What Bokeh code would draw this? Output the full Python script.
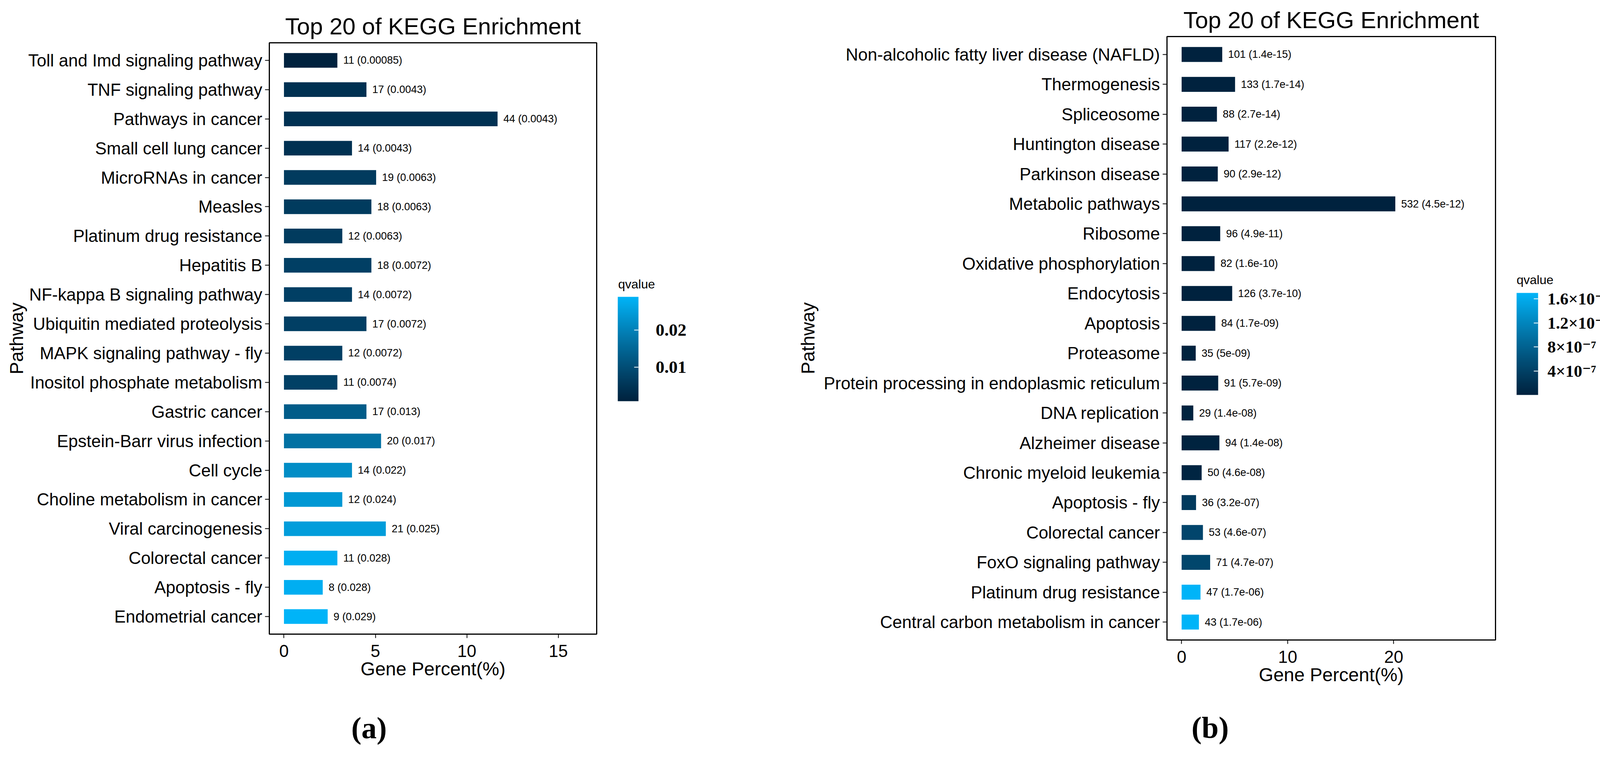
import numpy as np
from bokeh.plotting import figure
from bokeh.models import (ColumnDataSource, FactorRange, Range1d, LinearColorMapper,
                          ColorBar, FixedTicker, LinearAxis,
                          CustomJSTickFormatter, BasicTickFormatter)
from bokeh.transform import transform
from bokeh.layouts import row, column
from bokeh.core.properties import value
from bokeh.embed import file_html
from bokeh.resources import INLINE

# ---------------- data: panel (a) ----------------
pathways_a = [
    "Toll and Imd signaling pathway", "TNF signaling pathway", "Pathways in cancer",
    "Small cell lung cancer", "MicroRNAs in cancer", "Measles",
    "Platinum drug resistance", "Hepatitis B", "NF-kappa B signaling pathway",
    "Ubiquitin mediated proteolysis", "MAPK signaling pathway - fly",
    "Inositol phosphate metabolism", "Gastric cancer", "Epstein-Barr virus infection",
    "Cell cycle", "Choline metabolism in cancer", "Viral carcinogenesis",
    "Colorectal cancer", "Apoptosis - fly", "Endometrial cancer",
]
counts_a = [11, 17, 44, 14, 19, 18, 12, 18, 14, 17, 12, 11, 17, 20, 14, 12, 21, 11, 8, 9]
percent_a = [2.92, 4.51, 11.68, 3.72, 5.04, 4.78, 3.19, 4.78, 3.72, 4.51,
             3.19, 2.92, 4.51, 5.31, 3.72, 3.19, 5.57, 2.92, 2.12, 2.39]
qvalue_a = [0.00085, 0.0043, 0.0043, 0.0043, 0.0063, 0.0063, 0.0063, 0.0072, 0.0072, 0.0072,
            0.0072, 0.0074, 0.013, 0.017, 0.022, 0.024, 0.025, 0.028, 0.028, 0.029]
xticks_a = [0, 5, 10, 15]
cbticks_a = [0.01, 0.02]

# ---------------- data: panel (b) ----------------
pathways_b = [
    "Non-alcoholic fatty liver disease (NAFLD)", "Thermogenesis", "Spliceosome",
    "Huntington disease", "Parkinson disease", "Metabolic pathways", "Ribosome",
    "Oxidative phosphorylation", "Endocytosis", "Apoptosis", "Proteasome",
    "Protein processing in endoplasmic reticulum", "DNA replication", "Alzheimer disease",
    "Chronic myeloid leukemia", "Apoptosis - fly", "Colorectal cancer",
    "FoxO signaling pathway", "Platinum drug resistance", "Central carbon metabolism in cancer",
]
counts_b = [101, 133, 88, 117, 90, 532, 96, 82, 126, 84, 35, 91, 29, 94, 50, 36, 53, 71, 47, 43]
percent_b = [3.83, 5.04, 3.33, 4.43, 3.41, 20.15, 3.64, 3.11, 4.77, 3.18,
             1.33, 3.45, 1.10, 3.56, 1.89, 1.36, 2.01, 2.69, 1.78, 1.63]
qvalue_b = [1.4e-15, 1.7e-14, 2.7e-14, 2.2e-12, 2.9e-12, 4.5e-12, 4.9e-11, 1.6e-10, 3.7e-10, 1.7e-09,
            5e-09, 5.7e-09, 1.4e-08, 1.4e-08, 4.6e-08, 3.2e-07, 4.6e-07, 4.7e-07, 1.7e-06, 1.7e-06]
xticks_b = [0, 10, 20]
cbticks_b = [4e-7, 8e-7, 1.2e-6, 1.6e-6]

LOW_COLOR = "#00223E"
HIGH_COLOR = "#00B4F8"

SANS = "Liberation Sans"
SERIF = "Liberation Serif"
# superscript digits are not in Liberation Serif: fall back to DejaVu Serif for them
SERIF_SUP = "'Liberation Serif', 'DejaVu Serif', serif"


# ---------------- colour ramp in CIELAB (like ggplot's gradient) ----------------
def hex_to_lab(h):
    rgb = [int(h[i:i + 2], 16) / 255.0 for i in (1, 3, 5)]
    lin = [((c + 0.055) / 1.055) ** 2.4 if c > 0.04045 else c / 12.92 for c in rgb]
    R, G, B = lin
    X = (0.4124 * R + 0.3576 * G + 0.1805 * B) / 0.95047
    Y = (0.2126 * R + 0.7152 * G + 0.0722 * B)
    Z = (0.0193 * R + 0.1192 * G + 0.9505 * B) / 1.08883
    d = 6 / 29

    def f(t):
        return t ** (1 / 3) if t > d ** 3 else t / (3 * d * d) + 4 / 29
    return 116 * f(Y) - 16, 500 * (f(X) - f(Y)), 200 * (f(Y) - f(Z))


def lab_to_hex(L, a, b):
    d = 6 / 29
    fy = (L + 16) / 116
    fx = fy + a / 500
    fz = fy - b / 200

    def finv(t):
        return t ** 3 if t > d else 3 * d * d * (t - 4 / 29)
    X = 0.95047 * finv(fx)
    Y = finv(fy)
    Z = 1.08883 * finv(fz)
    R = 3.2406 * X - 1.5372 * Y - 0.4986 * Z
    G = -0.9689 * X + 1.8758 * Y + 0.0415 * Z
    B = 0.0557 * X - 0.2040 * Y + 1.0570 * Z
    out = []
    for c in (R, G, B):
        c = 1.055 * c ** (1 / 2.4) - 0.055 if c > 0.0031308 else 12.92 * c
        out.append(int(round(min(max(c, 0.0), 1.0) * 255)))
    return "#%02x%02x%02x" % tuple(out)


lo, hi = np.array(hex_to_lab(LOW_COLOR)), np.array(hex_to_lab(HIGH_COLOR))
PALETTE = [lab_to_hex(*(lo + (hi - lo) * t)) for t in np.linspace(0, 1, 256)]

CB_PAD = 30  # generous colour-bar box so its labels are never clipped


def text_axis(text, **kw):
    """An axis with a single tick whose label is a fixed piece of text."""
    ax = LinearAxis(formatter=CustomJSTickFormatter(code="return %r;" % text), **kw)
    ax.major_tick_in = 0
    ax.major_tick_out = 0
    ax.major_tick_line_color = None
    ax.minor_tick_line_color = None
    ax.axis_line_color = None
    return ax


def make_panel(pathways, counts, percent, qvalue, xticks, cbticks, cb_formatter,
               width, height, border_l, border_r, border_t, border_b, x_start, x_end,
               cb_x, cb_y, cb_w, cb_h, cb_standoff, cb_font, ylabel_standoff,
               qlab_pos, qlab_standoff, tag, tag_x, tag_standoff):
    labels = ["%d (%s)" % (c, format(q, ".2g")) for c, q in zip(counts, qvalue)]
    src = ColumnDataSource(dict(pathway=pathways, percent=percent, q=qvalue, label=labels))

    p = figure(width=width, height=height, output_backend="svg", toolbar_location=None,
               y_range=FactorRange(factors=list(reversed(pathways)), range_padding=0.01),
               x_range=Range1d(x_start, x_end),
               min_border_left=border_l, min_border_right=border_r,
               min_border_top=border_t, min_border_bottom=border_b,
               title="Top 20 of KEGG Enrichment")
    p.title.align = "center"
    p.title.text_font = SANS
    p.title.text_font_size = "60px"
    p.title.text_font_style = "normal"
    p.title.text_color = "black"
    p.title.standoff = 18

    mapper = LinearColorMapper(palette=PALETTE, low=min(qvalue), high=max(qvalue))

    p.hbar(y="pathway", left=0, right="percent", height=0.5, source=src,
           fill_color=transform("q", mapper), line_color=None)
    p.text(x="percent", y="pathway", text="label", source=src, x_offset=15,
           text_baseline="middle", text_align="left", text_font=value(SANS),
           text_font_size="27px", text_color="black")

    p.xgrid.visible = False
    p.ygrid.visible = False
    p.outline_line_color = "black"
    p.outline_line_width = 3
    p.background_fill_color = "white"
    p.border_fill_color = "white"

    # x axis
    xa = p.xaxis[0]
    xa.ticker = FixedTicker(ticks=xticks)
    xa.axis_label = "Gene Percent(%)"
    xa.axis_label_text_font = SANS
    xa.axis_label_text_font_size = "48px"
    xa.axis_label_text_font_style = "normal"
    xa.axis_label_text_color = "black"
    xa.axis_label_standoff = 1
    xa.major_label_text_font = SANS
    xa.major_label_text_font_size = "44px"
    xa.major_label_text_color = "black"
    xa.major_label_standoff = 17
    xa.major_tick_out = 10
    xa.major_tick_in = 0
    xa.minor_tick_line_color = None
    xa.major_tick_line_color = "black"
    xa.major_tick_line_width = 2
    xa.axis_line_color = "black"
    xa.axis_line_width = 3

    # y axis
    ya = p.yaxis[0]
    ya.axis_label = "Pathway"
    ya.axis_label_text_font = SANS
    ya.axis_label_text_font_size = "48px"
    ya.axis_label_text_font_style = "normal"
    ya.axis_label_text_color = "black"
    ya.axis_label_standoff = ylabel_standoff
    ya.major_label_text_font = SANS
    ya.major_label_text_font_size = "44px"
    ya.major_label_text_color = "black"
    ya.major_label_standoff = 7
    ya.major_tick_out = 11
    ya.major_tick_in = 0
    ya.major_tick_line_color = "black"
    ya.major_tick_line_width = 2
    ya.axis_line_color = "black"
    ya.axis_line_width = 3

    cb = ColorBar(color_mapper=mapper, ticker=FixedTicker(ticks=cbticks),
                  formatter=cb_formatter, width=cb_w, height=cb_h, padding=CB_PAD,
                  location=(cb_x - CB_PAD, cb_y - CB_PAD),
                  major_label_text_font=SERIF_SUP, major_label_text_font_style="bold",
                  major_label_text_font_size=cb_font, major_label_text_color="black",
                  label_standoff=cb_standoff, major_tick_in=11, major_tick_out=0,
                  major_tick_line_color="white", major_tick_line_width=2,
                  minor_tick_line_color=None, bar_line_color=None,
                  background_fill_color=None, border_line_color=None)
    p.add_layout(cb, "center")

    # colour-bar title, drawn as the single label of a bare axis on the right
    # (position given in the y-range's own category units)
    qax = text_axis("qvalue", ticker=FixedTicker(ticks=[qlab_pos]))
    qax.major_label_standoff = qlab_standoff
    qax.major_label_text_font = SANS
    qax.major_label_text_font_size = "32px"
    qax.major_label_text_color = "black"
    p.add_layout(qax, "right")

    # panel tag "(a)" / "(b)", drawn as the single label of a bare axis below
    tax = text_axis(tag, ticker=FixedTicker(ticks=[tag_x]))
    tax.major_label_standoff = tag_standoff
    tax.major_label_text_font = SERIF
    tax.major_label_text_font_style = "bold"
    tax.major_label_text_font_size = "78px"
    tax.major_label_text_color = "black"
    p.add_layout(tax, "below")
    return p


sup_formatter = CustomJSTickFormatter(code="""
    if (tick == 0) { return "0"; }
    const e = Math.floor(Math.log10(Math.abs(tick)) + 1e-9);
    const m = Math.round(tick / Math.pow(10, e) * 10) / 10;
    const sup = {"-": "\u207b", "0": "\u2070", "1": "\u00b9", "2": "\u00b2", "3": "\u00b3",
                 "4": "\u2074", "5": "\u2075", "6": "\u2076", "7": "\u2077", "8": "\u2078",
                 "9": "\u2079"};
    return m.toString() + "\u00d710" + String(e).split("").map(c => sup[c]).join("");
""")

H = 1912
pa = make_panel(pathways_a, counts_a, percent_a, qvalue_a, xticks_a, cbticks_a,
                BasicTickFormatter(), width=2000, height=H,
                border_l=689, border_r=473, border_t=109, border_b=H - 1622,
                x_start=-0.8, x_end=17.1,
                cb_x=892, cb_y=596, cb_w=53, cb_h=267, cb_standoff=44, cb_font="45px",
                ylabel_standoff=0, qlab_pos=11.85, qlab_standoff=55,
                tag="(a)", tag_x=4.65, tag_standoff=78)

pb = make_panel(pathways_b, counts_b, percent_b, qvalue_b, xticks_b, cbticks_b,
                sup_formatter, width=2145, height=H,
                border_l=987, border_r=2145 - 1828, border_t=93, border_b=H - 1637,
                x_start=-1.38, x_end=29.6,
                cb_x=895, cb_y=627, cb_w=55, cb_h=261, cb_standoff=24, cb_font="43px",
                ylabel_standoff=11, qlab_pos=11.96, qlab_standoff=54,
                tag="(b)", tag_x=2.69, tag_standoff=62)

layout = row(column(pa), column(pb))
open("out.html", "w").write(file_html(layout, INLINE))
